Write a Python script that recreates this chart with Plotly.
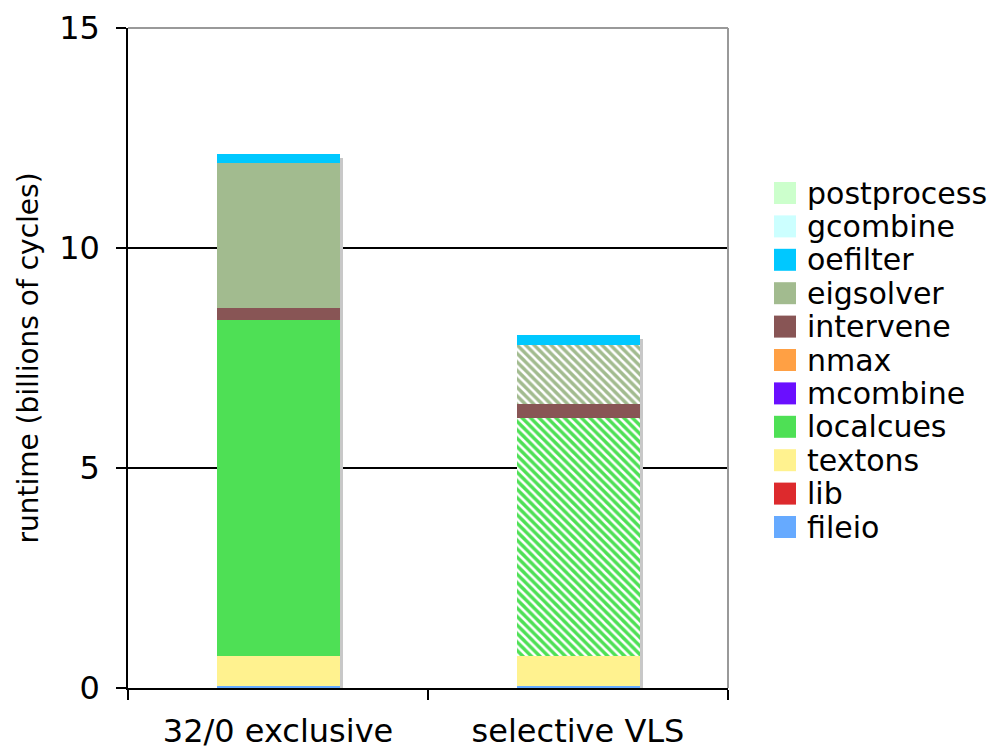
import plotly.graph_objects as go

# ---- data (billions of cycles) ----
categories = ["32/0 exclusive", "selective VLS"]

fileio = [0.04, 0.04]
lib = [0.0, 0.0]
textons = [0.68, 0.68]
localcues = [7.64, 5.41]
mcombine = [0.0, 0.0]
nmax = [0.0, 0.0]
intervene = [0.27, 0.32]
eigsolver = [3.31, 1.35]
oefilter = [0.20, 0.22]
gcombine = [0.0, 0.0]
postprocess = [0.0, 0.0]

# stacking order, bottom to top
stack = [
    ("fileio", fileio, "#66aaff"),
    ("lib", lib, "#dd2a2d"),
    ("textons", textons, "#fff28f"),
    ("localcues", localcues, "#4ee055"),
    ("mcombine", mcombine, "#6a0fff"),
    ("nmax", nmax, "#ffa044"),
    ("intervene", intervene, "#885555"),
    ("eigsolver", eigsolver, "#a2bb8f"),
    ("oefilter", oefilter, "#00c8ff"),
    ("gcombine", gcombine, "#ccffff"),
    ("postprocess", postprocess, "#ccffcc"),
]
# stages drawn hatched in the "selective VLS" bar
hatched_stages = {"localcues", "eigsolver"}
hatched_bars = [False, True]

FONT = "DejaVu Sans"
BAR_W = 0.41

# plot-area geometry in pixels
W, H = 992, 750
L, R, T, B = 128, 728, 28, 688


def px_x(x):
    return (x - L) / (R - L)


def px_y(y):
    return (B - y) / (B - T)


fig = go.Figure()

# soft drop shadow behind each stacked column
totals = [sum(vals[i] for _, vals, _ in stack) for i in range(len(categories))]
fig.add_trace(go.Bar(
    x=categories, y=[t - 0.09 for t in totals],
    width=BAR_W, offset=-BAR_W / 2 + 0.011,
    marker=dict(color="#c8c8c8", line=dict(width=0)),
    xaxis="x", yaxis="y", showlegend=False, hoverinfo="skip",
))

for name, vals, color in stack:
    shapes = ["\\" if (name in hatched_stages and h) else "" for h in hatched_bars]
    fig.add_trace(go.Bar(
        name=name, x=categories, y=vals, width=BAR_W,
        marker=dict(
            color=color, line=dict(width=0),
            pattern=dict(shape=shapes, fillmode="overlay", fgcolor="white",
                         fgopacity=1, size=6, solidity=0.42),
        ),
        xaxis="x2", yaxis="y", showlegend=False,
    ))

# legend: swatch + label, top to bottom
shapes = []
annotations = []
for k, (name, _, color) in enumerate(reversed(stack)):
    cy = 193 + k * 33.4
    shapes.append(dict(
        type="rect", xref="paper", yref="paper",
        x0=px_x(774), x1=px_x(796), y0=px_y(cy + 11), y1=px_y(cy - 11),
        fillcolor=color, line=dict(width=0), layer="above",
    ))
    annotations.append(dict(
        text=name, xref="paper", yref="paper", x=px_x(805), y=px_y(cy),
        xanchor="left", yanchor="middle", showarrow=False,
        font=dict(family=FONT, size=30, color="black"),
    ))

# grey frame on top and right of the plot area
shapes.append(dict(type="line", xref="paper", yref="paper", x0=0, x1=1, y0=1, y1=1,
                   line=dict(color="#999999", width=2), layer="above"))
shapes.append(dict(type="line", xref="paper", yref="paper", x0=1, x1=1, y0=0, y1=1,
                   line=dict(color="#999999", width=2), layer="above"))

xaxis_common = dict(
    type="category", categoryorder="array", categoryarray=categories,
    range=[-0.5, 1.5],
)

fig.update_layout(
    width=W, height=H,
    margin=dict(l=L, r=W - R, t=T, b=H - B, pad=0),
    paper_bgcolor="white", plot_bgcolor="white",
    barmode="stack",
    showlegend=False,
    font=dict(family=FONT, color="black"),
    xaxis=dict(
        **xaxis_common,
        showline=True, linecolor="black", linewidth=1.5,
        ticks="outside", tickson="boundaries", ticklen=10, tickwidth=1.5,
        tickcolor="black", showgrid=False,
        tickfont=dict(family=FONT, size=32, color="black"),
        ticklabelstandoff=14, automargin=False,
    ),
    xaxis2=dict(**xaxis_common, overlaying="x", visible=False),
    yaxis=dict(
        range=[0, 15], tickvals=[0, 5, 10, 15],
        showline=True, linecolor="black", linewidth=1.5,
        ticks="outside", ticklen=10, tickwidth=1.5, tickcolor="black",
        showgrid=True, gridcolor="black", gridwidth=1.5, zeroline=False,
        tickfont=dict(family=FONT, size=32, color="black"),
        ticklabelstandoff=10, automargin=False,
        title=dict(text="runtime (billions of cycles)", standoff=12,
                   font=dict(family=FONT, size=28, color="black")),
    ),
    shapes=shapes,
    annotations=annotations,
)

fig.write_html("out.html")
